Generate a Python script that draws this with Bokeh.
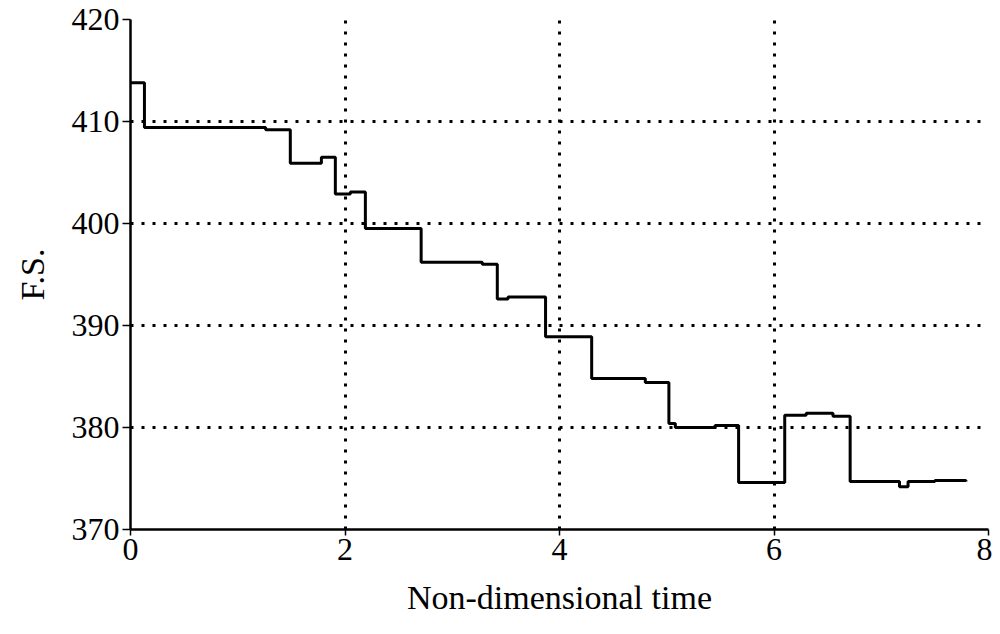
from bokeh.plotting import figure
from bokeh.models import FixedTicker, Range1d
from bokeh.embed import file_html
from bokeh.resources import INLINE

# Step data (value holds from each time until the next)
time = [0.0, 0.13, 1.26, 1.49, 1.78, 1.91, 2.05, 2.19, 2.71, 3.28, 3.42, 3.52,
        3.87, 4.30, 4.80, 5.02, 5.08, 5.45, 5.67, 6.10, 6.30, 6.55, 6.71, 7.17,
        7.25, 7.50, 7.79]
fs = [413.8, 409.4, 409.2, 405.9, 406.5, 402.9, 403.1, 399.5, 396.2, 396.0,
      392.6, 392.8, 388.9, 384.8, 384.4, 380.4, 380.0, 380.2, 374.6, 381.2,
      381.4, 381.1, 374.7, 374.2, 374.7, 374.8, 374.7]

x_ticks = [0, 2, 4, 6, 8]
y_ticks = [370, 380, 390, 400, 410, 420]

FONT = "Liberation Serif"

p = figure(width=992, height=618, output_backend="svg", toolbar_location=None,
           x_range=Range1d(0, 8), y_range=Range1d(370, 420),
           min_border_left=130, min_border_right=4, min_border_top=19,
           min_border_bottom=88)
p.outline_line_color = None
p.background_fill_color = "white"
p.border_fill_color = "white"

p.step(time, fs, mode="after", line_color="black", line_width=3)

for ax, ticks in ((p.xaxis, x_ticks), (p.yaxis, y_ticks)):
    ax.ticker = FixedTicker(ticks=ticks)
    ax.axis_line_color = "black"
    ax.axis_line_width = 2.5
    ax.major_tick_line_color = "black"
    ax.major_tick_line_width = 1.5
    ax.major_tick_in = 0
    ax.minor_tick_line_color = None
    ax.major_label_text_font = FONT
    ax.major_label_text_font_size = "32px"
    ax.major_label_text_color = "black"
    ax.axis_label_text_font = FONT
    ax.axis_label_text_font_size = "34px"
    ax.axis_label_text_font_style = "normal"
    ax.axis_label_text_color = "black"

p.xaxis.major_tick_out = 6
p.yaxis.major_tick_out = 8
p.xaxis.major_label_standoff = 3
p.yaxis.major_label_standoff = 3
p.xaxis.axis_label = "Non-dimensional time"
p.yaxis.axis_label = "F.S."
p.xaxis.axis_label_standoff = 16
p.yaxis.axis_label_standoff = 18

for g in (p.xgrid, p.ygrid):
    g.grid_line_color = "black"
    g.grid_line_width = 3
    g.grid_line_dash = "3 8"
    g.grid_line_alpha = 1.0

open("out.html", "w").write(file_html(p, INLINE))
